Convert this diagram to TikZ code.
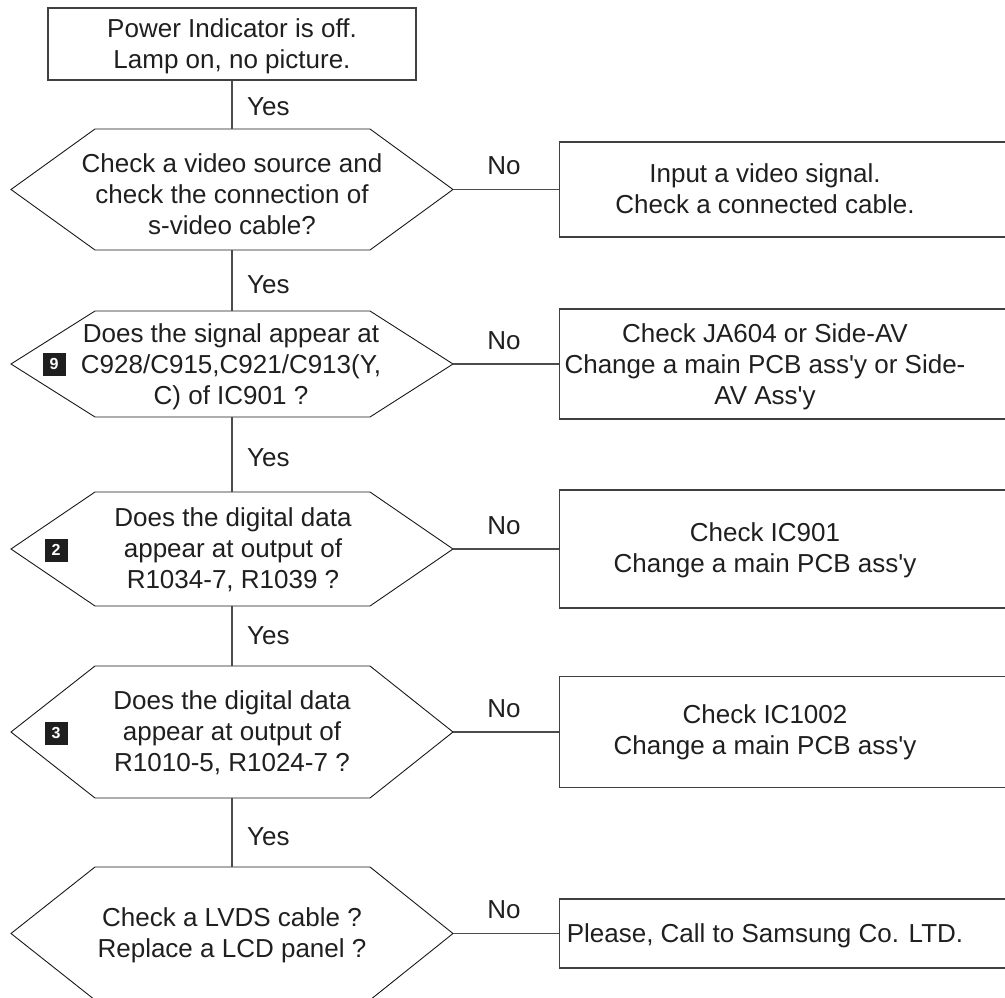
\documentclass[tikz,border=0pt]{standalone}
\usepackage{fontspec}
\setmainfont{Liberation Sans}
\newcommand{\Zs}{\rule[-0.214em]{0pt}{1.144em}}
\newcommand{\hexshape}[3]{%
  \coordinate (#1-n) at (232,#2);
  \coordinate (#1-s) at (232,#3);
  \coordinate (#1-e) at (453,{(#2+#3)/2});
  \coordinate (#1-w) at (11,{(#2+#3)/2});
  \draw[hexa] (#1-w) -- (95,#2) -- (370,#2) -- (#1-e) -- (370,#3) -- (95,#3) -- cycle;}
\begin{document}
\begin{tikzpicture}[x=1pt,y=-1pt,
  txt/.style={font=\fontsize{26}{31}\selectfont, text=black!88, align=center, inner sep=0pt},
  topbox/.style={draw=black!75, line width=1.2pt, minimum width=368pt, minimum height=72pt},
  rbox/.style={draw=black!75, line width=1.2pt, minimum width=447pt, anchor=west, inner sep=0pt},
  hexa/.style={draw=black!90, line width=0.9pt, line join=miter},
  conn/.style={draw=black!70, line width=1.1pt},
  lbl/.style={font=\fontsize{26}{31}\selectfont, text=black!88, inner sep=0pt},
  badge/.style={fill=black!88, text=white, font=\fontsize{16}{16}\selectfont\bfseries, minimum size=23pt, inner sep=0pt}
]
\useasboundingbox (0,0) rectangle (1005,998);

% top box
\node[topbox, txt] (top) at (232,44) {\Zs Power Indicator is off.\\\Zs Lamp on, no picture.};

% hexagons
\hexshape{h1}{129}{250}
\hexshape{h2}{311}{417}
\hexshape{h3}{492}{606}
\hexshape{h4}{666}{798}
\hexshape{h5}{867}{1000}

\node[txt] (h1t) at (232,194) {\Zs Check a video source and\\\Zs check the connection of\\\Zs s-video cable?};
\node[txt] (h2t) at (231,364) {\Zs Does the signal appear at\\\Zs C928/C915,C921/C913(Y,\\\Zs C) of IC901 ?};
\node[txt] (h3t) at (233,548) {\Zs Does the digital data\\\Zs appear at output of\\\Zs R1034-7, R1039 ?};
\node[txt] (h4t) at (232,731) {\Zs Does the digital data\\\Zs appear at output of\\\Zs R1010-5, R1024-7 ?};
\node[txt] (h5t) at (232,933) {\Zs Check a LVDS cable ?\\\Zs Replace a LCD panel ?};

% badges
\node[badge] (bg9) at (54,364) {9};
\node[badge] (bg2) at (56,550) {2};
\node[badge] (bg3) at (56,733) {3};

% right boxes
\node[rbox, minimum height=95pt] (b1) at (559,189.5) {};
\node[rbox, minimum height=110pt] (b2) at (559,364) {};
\node[rbox, minimum height=118pt] (b3) at (559,549) {};
\node[rbox, minimum height=111pt] (b4) at (559,732) {};
\node[rbox, minimum height=69pt] (b5) at (559,933.5) {};

\node[txt] (b1t) at (765,189) {\Zs Input a video signal.\\\Zs Check a connected cable.};
\node[txt] (b2t) at (765,364) {\Zs Check JA604 or Side-AV\\\Zs Change a main PCB ass\textquotesingle y or Side-\\\Zs AV Ass\textquotesingle y};
\node[txt] (b3t) at (765,548) {\Zs Check IC901\\\Zs Change a main PCB ass\textquotesingle y};
\node[txt] (b4t) at (765,730) {\Zs Check IC1002\\\Zs Change a main PCB ass\textquotesingle y};
\node[txt] (b5t) at (765,933.5) {\Zs Please, Call to Samsung Co. LTD.};

% vertical connectors
\draw[conn] (top.south) -- (h1-n);
\draw[conn] (h1-s) -- (h2-n);
\draw[conn] (h2-s) -- (h3-n);
\draw[conn] (h3-s) -- (h4-n);
\draw[conn] (h4-s) -- (h5-n);

% horizontal connectors
\draw[conn] (h1-e) -- (b1.west);
\draw[conn] (h2-e) -- (b2.west);
\draw[conn] (h3-e) -- (b3.west);
\draw[conn] (h4-e) -- (b4.west);
\draw[conn] (h5-e) -- (b5.west);

% Yes labels
\node[lbl, anchor=base west] (y1) at (247,115) {Yes};
\node[lbl, anchor=base west] (y2) at (247,293) {Yes};
\node[lbl, anchor=base west] (y3) at (247,466) {Yes};
\node[lbl, anchor=base west] (y4) at (247,644) {Yes};
\node[lbl, anchor=base west] (y5) at (247,845) {Yes};

% No labels
\node[lbl, anchor=base] (n1) at (504,175) {No};
\node[lbl, anchor=base] (n2) at (504,349.5) {No};
\node[lbl, anchor=base] (n3) at (504,534.5) {No};
\node[lbl, anchor=base] (n4) at (504,717.5) {No};
\node[lbl, anchor=base] (n5) at (504,918.5) {No};
\end{tikzpicture}
\end{document}
